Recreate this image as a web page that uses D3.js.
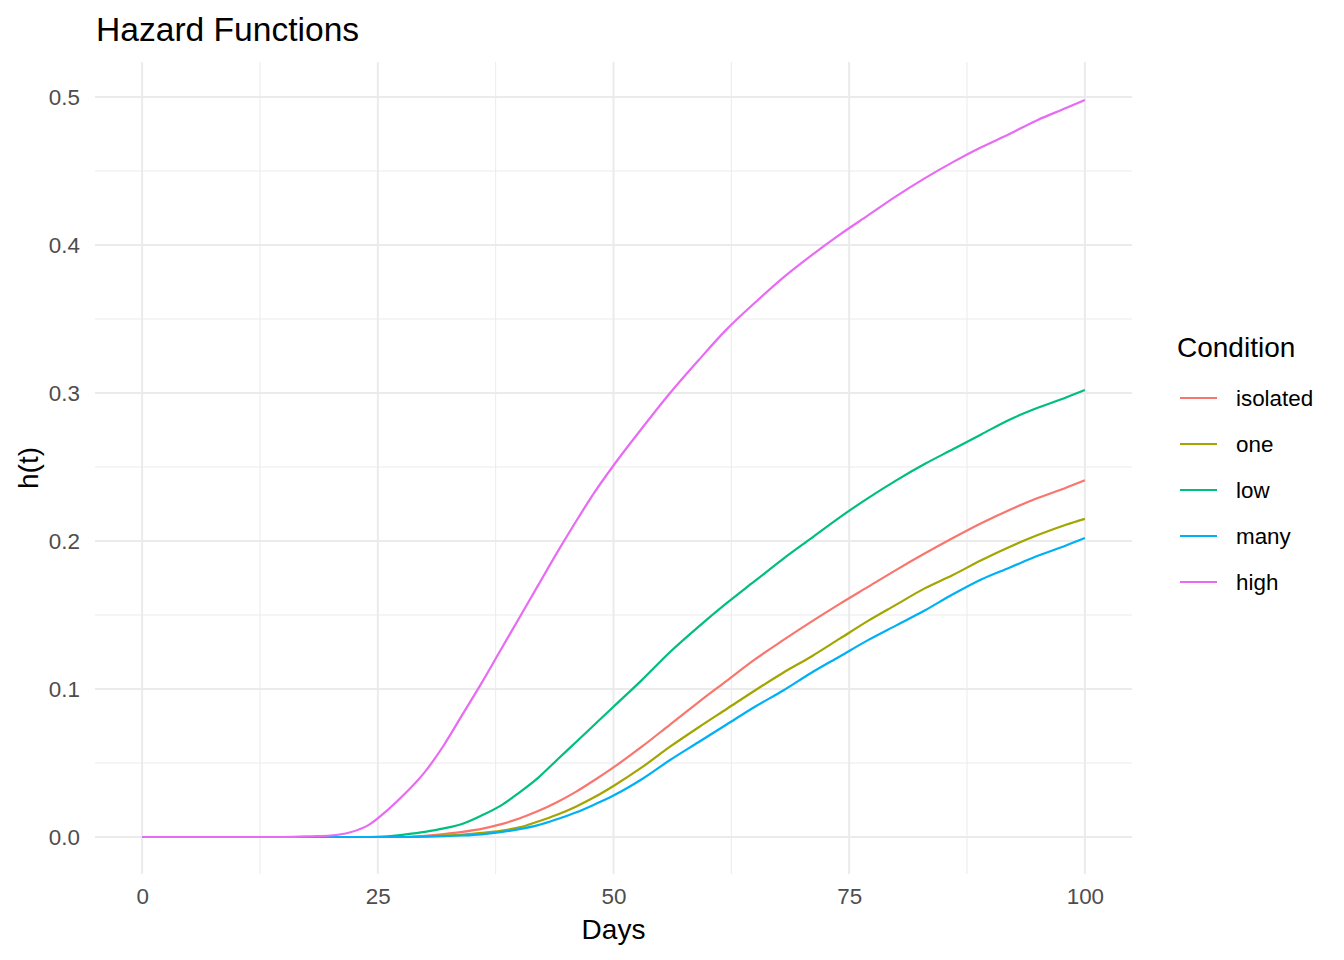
<!DOCTYPE html>
<html>
<head>
<meta charset="utf-8">
<script src="https://cdn.jsdelivr.net/npm/d3@7"></script>
<style>
  html, body { margin: 0; padding: 0; background: #ffffff; }
  svg { display: block; font-family: "Liberation Sans", Arial, sans-serif; }
</style>
</head>
<body>
<svg id="chart" width="1344" height="960"></svg>
<script>
// ---- data ----
const days = [0, 5, 10, 15, 18, 20, 22, 24, 26, 28, 30, 32, 34, 36, 38, 40, 42, 44, 46, 48, 50,
              53, 56, 59, 62, 65, 68, 71, 74, 77, 80, 83, 86, 89, 92, 95, 98, 100];
const isolated = [0, 0, 0, 0, 0, 0, 0, 0, 0, 0, 0.0008, 0.002, 0.0035, 0.0055, 0.0085, 0.0125, 0.0175, 0.0235, 0.0305, 0.0385, 0.047,
                  0.061, 0.076, 0.091, 0.1055, 0.120, 0.133, 0.1455, 0.1575, 0.169, 0.1805, 0.1915, 0.202, 0.212, 0.221, 0.229, 0.236, 0.241];
const one = [0, 0, 0, 0, 0, 0, 0, 0, 0, 0, 0.0004, 0.001, 0.0017, 0.0028, 0.0042, 0.0065, 0.0105, 0.015, 0.0205, 0.027, 0.0345,
             0.047, 0.061, 0.074, 0.0865, 0.099, 0.111, 0.122, 0.134, 0.146, 0.157, 0.168, 0.177, 0.187, 0.196, 0.204, 0.211, 0.215];
const low = [0, 0, 0, 0, 0, 0, 0, 0, 0.0005, 0.0018, 0.0035, 0.0058, 0.009, 0.0145, 0.021, 0.030, 0.040, 0.052, 0.064, 0.076, 0.088,
             0.106, 0.125, 0.142, 0.158, 0.173, 0.188, 0.202, 0.216, 0.229, 0.241, 0.252, 0.262, 0.272, 0.282, 0.290, 0.297, 0.302];
const many = [0, 0, 0, 0, 0, 0, 0, 0, 0, 0, 0.0003, 0.0006, 0.001, 0.0018, 0.0033, 0.0053, 0.008, 0.012, 0.0165, 0.022, 0.028,
              0.039, 0.052, 0.064, 0.076, 0.088, 0.099, 0.111, 0.122, 0.133, 0.143, 0.153, 0.164, 0.174, 0.182, 0.190, 0.197, 0.202];
const high = [0, 0, 0, 0, 0.0005, 0.001, 0.003, 0.008, 0.018, 0.030, 0.044, 0.062, 0.083, 0.104, 0.126, 0.148, 0.170, 0.192, 0.213, 0.233, 0.251,
              0.276, 0.300, 0.322, 0.343, 0.361, 0.378, 0.393, 0.407, 0.420, 0.433, 0.445, 0.456, 0.466, 0.475, 0.4845, 0.4925, 0.498];

const conditions = ["isolated", "one", "low", "many", "high"];
const seriesValues = [isolated, one, low, many, high];
const colors = ["#F8766D", "#A3A500", "#00BF7D", "#00B0F6", "#E76BF3"];
const xTicks = [0, 25, 50, 75, 100];
const xMinor = [12.5, 37.5, 62.5, 87.5];
const yTicks = [0, 0.1, 0.2, 0.3, 0.4, 0.5];
const yMinor = [0.05, 0.15, 0.25, 0.35, 0.45];

// ---- layout ----
const svg = d3.select("#chart");
const panel = { left: 95, right: 1132, top: 62, bottom: 874 };

const x = d3.scaleLinear().domain([-5, 105]).range([panel.left, panel.right]);
const y = d3.scaleLinear().domain([0, 0.5]).range([837, 97]);

const grid = svg.append("g");
// minor grid
grid.selectAll("line.xm").data(xMinor).enter().append("line")
  .attr("x1", d => x(d)).attr("x2", d => x(d))
  .attr("y1", panel.top).attr("y2", panel.bottom)
  .attr("stroke", "#EBEBEB").attr("stroke-width", 1);
grid.selectAll("line.ym").data(yMinor).enter().append("line")
  .attr("x1", panel.left).attr("x2", panel.right)
  .attr("y1", d => y(d)).attr("y2", d => y(d))
  .attr("stroke", "#EBEBEB").attr("stroke-width", 1);
// major grid
grid.selectAll("line.xM").data(xTicks).enter().append("line")
  .attr("x1", d => x(d)).attr("x2", d => x(d))
  .attr("y1", panel.top).attr("y2", panel.bottom)
  .attr("stroke", "#EBEBEB").attr("stroke-width", 2);
grid.selectAll("line.yM").data(yTicks).enter().append("line")
  .attr("x1", panel.left).attr("x2", panel.right)
  .attr("y1", d => y(d)).attr("y2", d => y(d))
  .attr("stroke", "#EBEBEB").attr("stroke-width", 2);

// axes (labels only)
const xAxis = svg.append("g")
  .attr("transform", `translate(0,${panel.bottom})`)
  .call(d3.axisBottom(x).tickValues(xTicks).tickFormat(d3.format("d")).tickSize(0).tickPadding(14));
xAxis.select(".domain").remove();
xAxis.selectAll("text").attr("font-size", 22.4).attr("fill", "#4D4D4D")
  .attr("font-family", "Liberation Sans, Arial, sans-serif");

const yAxis = svg.append("g")
  .attr("transform", `translate(${panel.left},0)`)
  .call(d3.axisLeft(y).tickValues(yTicks).tickFormat(d3.format(".1f")).tickSize(0).tickPadding(15));
yAxis.select(".domain").remove();
yAxis.selectAll("text").attr("font-size", 22.4).attr("fill", "#4D4D4D")
  .attr("font-family", "Liberation Sans, Arial, sans-serif");

// lines
const line = d3.line()
  .x((d, i) => x(days[i]))
  .y(d => y(d))
  .curve(d3.curveMonotoneX);

svg.append("g").selectAll("path").data(seriesValues).enter().append("path")
  .attr("d", d => line(d))
  .attr("fill", "none")
  .attr("stroke", (d, i) => colors[i])
  .attr("stroke-width", 2.2)
  .attr("stroke-linejoin", "round");

// titles
svg.append("text").attr("x", 96).attr("y", 41)
  .attr("font-size", 33.6).attr("fill", "#000").text("Hazard Functions");
svg.append("text").attr("x", (panel.left + panel.right) / 2).attr("y", 939)
  .attr("text-anchor", "middle").attr("font-size", 28).attr("fill", "#000").text("Days");
svg.append("text")
  .attr("transform", `translate(38,${(panel.top + panel.bottom) / 2}) rotate(-90)`)
  .attr("text-anchor", "middle").attr("font-size", 28).attr("fill", "#000").text("h(t)");

// legend
const legend = svg.append("g");
legend.append("text").attr("x", 1177).attr("y", 357)
  .attr("font-size", 28).attr("fill", "#000").text("Condition");
const items = legend.selectAll("g.item").data(conditions).enter().append("g")
  .attr("transform", (d, i) => `translate(0,${398 + i * 46})`);
items.append("line").attr("x1", 1180).attr("x2", 1217).attr("y1", 0).attr("y2", 0)
  .attr("stroke", (d, i) => colors[i]).attr("stroke-width", 2.2);
items.append("text").attr("x", 1236).attr("y", 0).attr("dy", "0.35em")
  .attr("font-size", 22.4).attr("fill", "#000").text(d => d);
</script>
</body>
</html>
